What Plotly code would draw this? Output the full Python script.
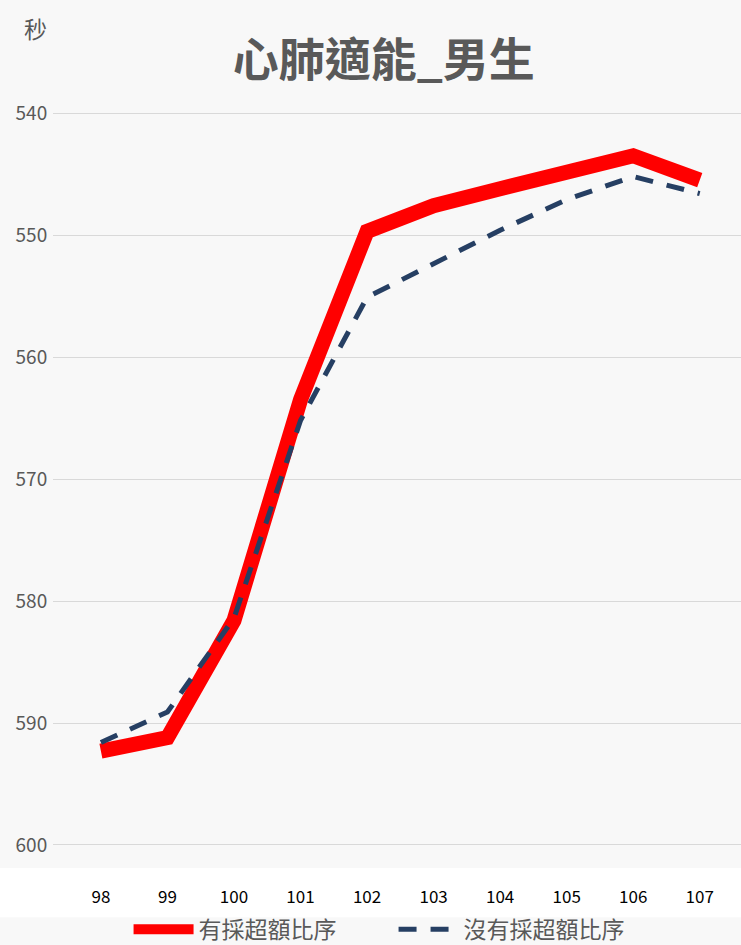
import plotly.graph_objects as go

years = ["98", "99", "100", "101", "102", "103", "104", "105", "106", "107"]
with_quota = [592.3, 591.2, 581.6, 563.5, 549.7, 547.6, 546.2, 544.9, 543.5, 545.5]
without_quota = [591.6, 589.1, 581.4, 565.2, 555.1, 552.3, 549.6, 547.1, 545.2, 546.6]
y_ticks = [540, 550, 560, 570, 580, 590, 600]

FONT = "Noto Sans CJK TC"
GREY = "#595959"

fig = go.Figure()
fig.add_trace(go.Scatter(
    x=years, y=with_quota, mode="lines", name="有採超額比序",
    line=dict(color="#ff0000", width=15),
))
fig.add_trace(go.Scatter(
    x=years, y=without_quota, mode="lines", name="沒有採超額比序",
    line=dict(color="#263f63", width=5, dash="18px,14px"),
))

fig.update_layout(
    width=741, height=945,
    margin=dict(l=53, r=0, t=95, b=80, autoexpand=False),
    paper_bgcolor="#f8f8f8",
    plot_bgcolor="#f8f8f8",
    title=dict(
        text="<b>心肺適能_男生</b>",
        font=dict(family=FONT, size=46, color=GREY),
        x=0.518, xanchor="center", y=0.937, yanchor="middle",
    ),
    xaxis=dict(
        type="category",
        range=[-0.72, 9.62],
        showgrid=False, zeroline=False, showline=False,
        ticks="outside", ticklen=17, tickcolor="rgba(0,0,0,0)",
        tickfont=dict(family=FONT, size=17, color="#000000"),
    ),
    yaxis=dict(
        range=[601.64, 538.52],
        tickvals=y_ticks,
        showgrid=True, gridcolor="#d9d9d9", gridwidth=1,
        zeroline=False, showline=False,
        ticks="outside", ticklen=1, tickcolor="rgba(0,0,0,0)",
        tickfont=dict(family=FONT, size=19, color=GREY),
    ),
    legend=dict(
        orientation="h", x=0.495, xanchor="center", y=-0.0835, yanchor="middle",
        font=dict(family=FONT, size=23, color=GREY),
        bgcolor="rgba(0,0,0,0)",
        itemwidth=60,
        entrywidth=190,
    ),
    showlegend=True,
    shapes=[
        dict(type="rect", xref="paper", yref="paper", x0=-0.08, x1=1.0,
             y0=-0.068, y1=-0.004, fillcolor="#ffffff", line=dict(width=0),
             layer="below"),
    ],
    annotations=[
        dict(text="秒", xref="paper", yref="paper", x=-0.025, y=1.087,
             xanchor="center", yanchor="middle", showarrow=False,
             font=dict(family=FONT, size=23, color=GREY)),
    ],
)

fig.write_html("out.html")
